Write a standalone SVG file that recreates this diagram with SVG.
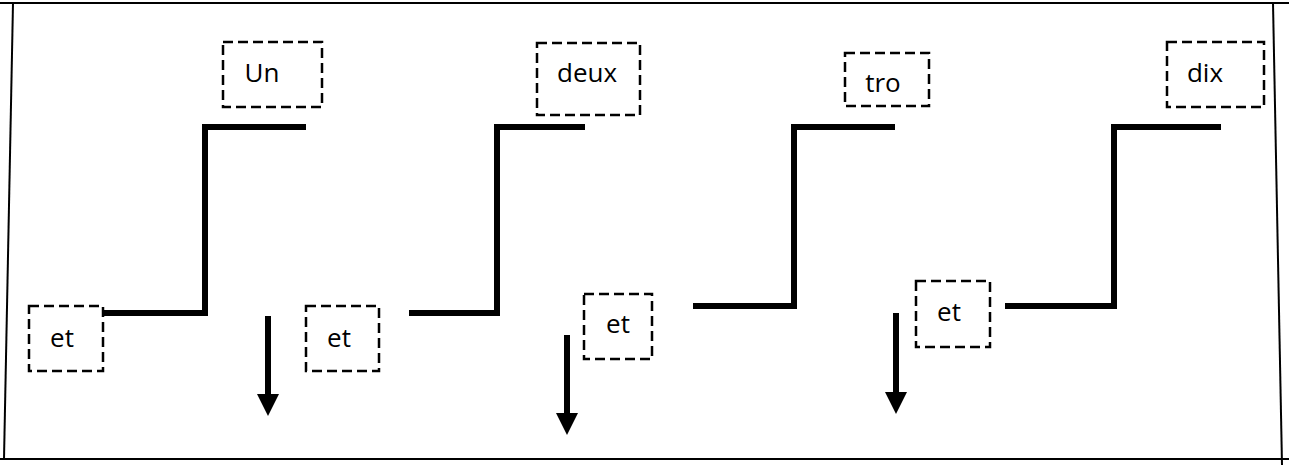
<svg xmlns="http://www.w3.org/2000/svg" width="1289" height="465" viewBox="0 0 1289 465">
  <style>
    .frame { fill: none; stroke: #000; stroke-width: 2; }
    .box rect { fill: #fff; stroke: #000; stroke-width: 2.5; stroke-dasharray: 10 5; }
    .box text { font-family: "Open Sans", "Liberation Sans", Arial, sans-serif; font-size: 26px; fill: #000; text-anchor: middle; }
    .step { fill: none; stroke: #000; stroke-width: 6; stroke-linejoin: miter; stroke-linecap: butt; }
    .arrow { stroke: #000; stroke-width: 6; fill: none; }
  </style>
  <defs>
    <marker id="head" markerUnits="userSpaceOnUse" markerWidth="22" markerHeight="22" viewBox="0 0 20 20" refX="0" refY="10" orient="auto">
      <path d="M0,0 L20,10 L0,20 Z" fill="#000"/>
    </marker>
  </defs>

  <rect width="1289" height="465" fill="#fff"/>

  <!-- outer frame -->
  <g id="frame">
    <line class="frame" x1="0" y1="3" x2="1289" y2="3"/>
    <line class="frame" x1="13" y1="3" x2="4" y2="459"/>
    <line class="frame" x1="0" y1="459" x2="1289" y2="459"/>
    <line class="frame" x1="1273" y1="3" x2="1282" y2="465"/>
  </g>

  <!-- steps and arrows -->
  <g id="connectors">
    <path class="step" d="M103,313 H205 V127 H306"/>
    <path class="step" d="M409,313 H497 V127 H585"/>
    <path class="step" d="M693,306 H794 V127 H895"/>
    <path class="step" d="M1005,306 H1114 V127 H1221"/>
    <line class="arrow" x1="268" y1="316" x2="268" y2="394" marker-end="url(#head)"/>
    <line class="arrow" x1="567" y1="335" x2="567" y2="413" marker-end="url(#head)"/>
    <line class="arrow" x1="896" y1="313" x2="896" y2="392" marker-end="url(#head)"/>
  </g>

  <g id="box-un" class="box">
    <rect x="223" y="42" width="99" height="65"/>
    <text x="262" y="82">Un</text>
  </g>
  <g id="box-deux" class="box">
    <rect x="537" y="43" width="103" height="72"/>
    <text x="587" y="82">deux</text>
  </g>
  <g id="box-tro" class="box">
    <rect x="845" y="53" width="84" height="53"/>
    <text x="883" y="92">tro</text>
  </g>
  <g id="box-dix" class="box">
    <rect x="1167" y="42" width="97" height="65"/>
    <text x="1205" y="82">dix</text>
  </g>
  <g id="box-et1" class="box">
    <rect x="29" y="306" width="74" height="65"/>
    <text x="62" y="347">et</text>
  </g>
  <g id="box-et2" class="box">
    <rect x="306" y="306" width="73" height="65"/>
    <text x="339" y="347">et</text>
  </g>
  <g id="box-et3" class="box">
    <rect x="584" y="294" width="68" height="65"/>
    <text x="618" y="333">et</text>
  </g>
  <g id="box-et4" class="box">
    <rect x="916" y="281" width="74" height="66"/>
    <text x="949" y="321">et</text>
  </g>
</svg>
